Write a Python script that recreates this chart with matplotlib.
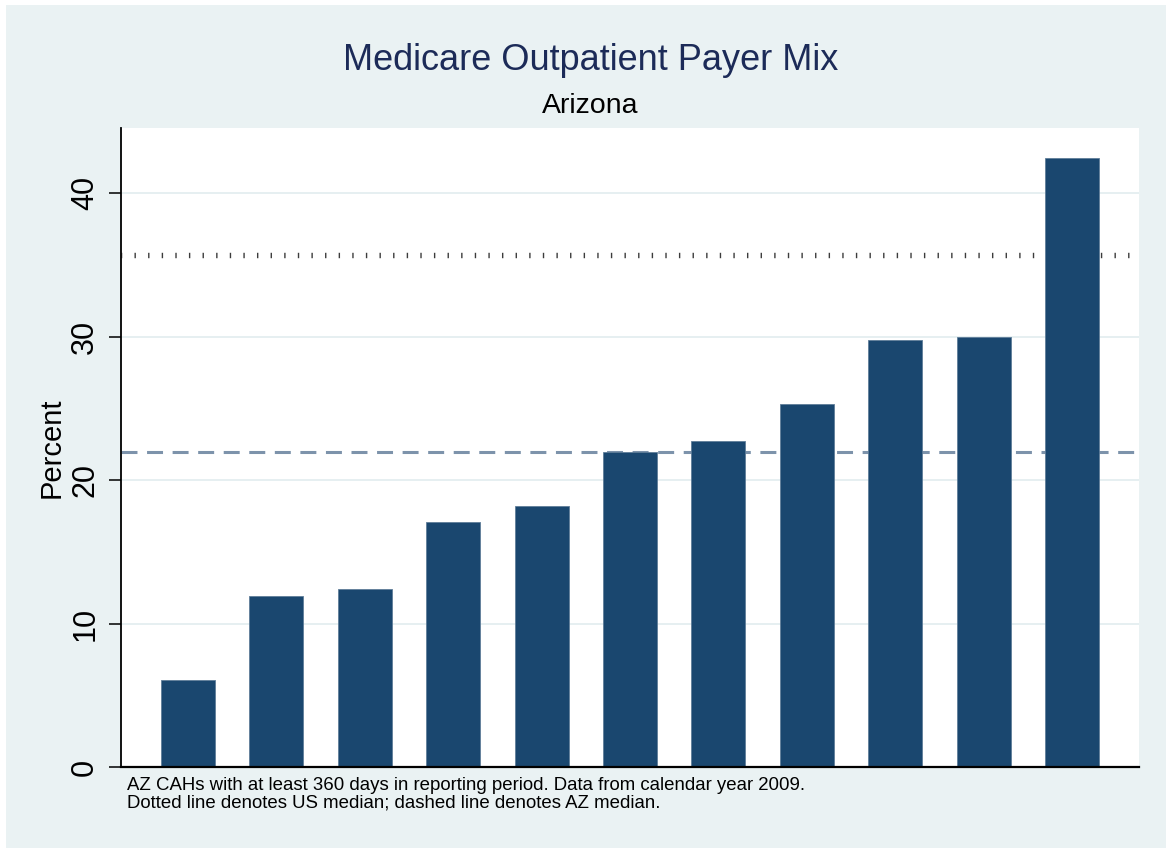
import matplotlib
matplotlib.use('Agg')
import matplotlib.pyplot as plt
from matplotlib.patches import Rectangle

# Percent of outpatient revenue from Medicare, AZ CAHs (sorted)
hospitals = list(range(1, 12))
medicare_pct = [6.05, 11.91, 12.40, 17.07, 18.19, 21.95, 22.72, 25.30, 29.77, 29.97, 42.48]
us_median = 35.71
az_median = 21.95
y_ticks = [0, 10, 20, 30, 40]

title = 'Medicare Outpatient Payer Mix'
subtitle = 'Arizona'
note_lines = [
    'AZ CAHs with at least 360 days in reporting period. Data from calendar year 2009.',
    'Dotted line denotes US median; dashed line denotes AZ median.',
]


def main() -> None:
    plt.rcParams['font.family'] = ['Liberation Sans', 'DejaVu Sans']
    plt.rcParams['lines.scale_dashes'] = False

    W, H = 1166, 848
    fig = plt.figure(figsize=(W / 100, H / 100), dpi=100, facecolor='white')

    # light outer background (small white strip on top/left)
    fig.patches.append(Rectangle((6 / W, 0), 1 - 6 / W, 1 - 5 / H,
                                 transform=fig.transFigure, facecolor='#eaf2f3',
                                 edgecolor='none', zorder=-10))

    ax = fig.add_axes([121 / W, 1 - 767 / H, (1139 - 121) / W, (767 - 128) / H])
    ax.set_facecolor('white')

    # grid
    for t in y_ticks[1:]:
        ax.axhline(t, color='#e6eff1', lw=1.4, zorder=0)

    # US median (dotted -> short vertical ticks)
    ax.axhline(us_median, color='#3c3c3c', lw=3.9, dash_capstyle='butt',
               linestyle=(0.45, (1.0, 8.8)), zorder=1)
    # AZ median (dashed)
    ax.axhline(az_median, color='#7d93ab', lw=2.2, dash_capstyle='butt',
               linestyle=(0, (11.5, 6.9)), zorder=1)

    ax.bar(hospitals, medicare_pct, width=0.611, color='#1a476f',
           edgecolor='#5f7d99', linewidth=0.6, zorder=2)

    ax.set_xlim(0.242, 11.758)
    ax.set_ylim(0, 44.55)
    ax.set_xticks([])
    ax.set_yticks(y_ticks)
    ax.set_yticklabels([str(t) for t in y_ticks], rotation=90, va='center', fontsize=22)
    ax.tick_params(axis='y', length=9, width=1.1, color='black', pad=6)

    for side in ['top', 'right']:
        ax.spines[side].set_visible(False)
    ax.spines['left'].set_linewidth(1.3)
    ax.spines['bottom'].set_linewidth(1.6)

    ax.set_ylabel('Percent', fontsize=21, labelpad=3)

    fig.text(591 / W, 1 - 70 / H, title, ha='center', va='baseline',
             fontsize=26, color='#1c2b58')
    fig.text(590 / W, 1 - 113 / H, subtitle, ha='center', va='baseline',
             fontsize=20.5, color='black')

    fig.text(127 / W, 1 - 790 / H, note_lines[0], ha='left', va='baseline', fontsize=13.4)
    fig.text(127 / W, 1 - 808 / H, note_lines[1], ha='left', va='baseline', fontsize=13.4)

    fig.savefig('out.png', dpi=100, facecolor='white')


if __name__ == '__main__':
    main()
